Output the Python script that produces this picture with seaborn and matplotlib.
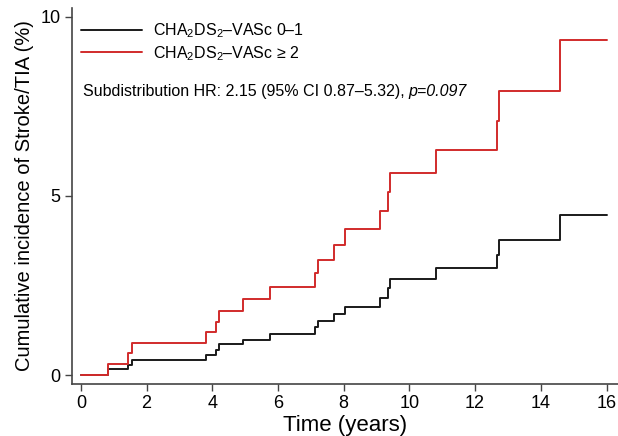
import matplotlib
matplotlib.use("Agg")
import matplotlib.pyplot as plt
import seaborn as sns
import pandas as pd

# ---- data ----
times = [0, 0.84, 1.44, 1.57, 3.82, 4.10, 4.19, 4.95, 5.77, 7.13, 7.21,
         7.72, 8.05, 9.11, 9.36, 9.42, 10.81, 12.67, 12.74, 14.59, 16.0]
low_risk = [0, 0.16, 0.27, 0.42, 0.55, 0.70, 0.86, 0.98, 1.15, 1.35, 1.52,
            1.70, 1.91, 2.16, 2.42, 2.67, 2.98, 3.35, 3.77, 4.47, 4.47]
high_risk = [0, 0.32, 0.62, 0.90, 1.20, 1.49, 1.80, 2.12, 2.45, 2.84, 3.21,
             3.62, 4.07, 4.59, 5.12, 5.65, 6.28, 7.10, 7.93, 9.34, 9.34]
group_labels = [r"CHA$_2$DS$_2$–VASc 0–1", r"CHA$_2$DS$_2$–VASc ≥ 2"]
colors = ["#1a1a1a", "#d12b2b"]
x_ticks = [0, 2, 4, 6, 8, 10, 12, 14, 16]
y_ticks = [0, 5, 10]
annotation_main = "Subdistribution HR: 2.15 (95% CI 0.87–5.32), "
annotation_p = "p=0.097"

df = pd.concat([
    pd.DataFrame({"t": times, "v": low_risk, "g": group_labels[0]}),
    pd.DataFrame({"t": times, "v": high_risk, "g": group_labels[1]}),
], ignore_index=True)

sns.set_style("ticks")
plt.rcParams["font.family"] = ["Liberation Sans", "DejaVu Sans"]
plt.rcParams["mathtext.fontset"] = "custom"
plt.rcParams["mathtext.rm"] = "Liberation Sans"
plt.rcParams["mathtext.it"] = "Liberation Sans:italic"
plt.rcParams["mathtext.bf"] = "Liberation Sans:bold"
plt.rcParams["text.color"] = "black"
plt.rcParams["axes.labelcolor"] = "black"
plt.rcParams["xtick.color"] = "#444444"
plt.rcParams["ytick.color"] = "#444444"
plt.rcParams["xtick.labelcolor"] = "black"
plt.rcParams["ytick.labelcolor"] = "black"

fig = plt.figure(figsize=(6.18, 4.36), dpi=100)
ax = fig.add_axes([0.116, 0.119, 0.884, 0.863])

sns.lineplot(data=df, x="t", y="v", hue="g", hue_order=group_labels,
             palette=colors, estimator=None, sort=False,
             drawstyle="steps-post", linewidth=1.4, ax=ax, legend=False)

ax.set_xlim(-0.28, 16.35)
ax.set_ylim(-0.25, 10.25)
ax.set_xticks(x_ticks)
ax.set_yticks(y_ticks)
ax.tick_params(axis="both", labelsize=13, length=5, width=1, pad=3)
for s in ["top", "right"]:
    ax.spines[s].set_visible(False)
for s in ["left", "bottom"]:
    ax.spines[s].set_color("#444444")
    ax.spines[s].set_linewidth(1.2)

ax.set_xlabel("Time (years)", fontsize=16, labelpad=2)
ax.set_ylabel("Cumulative incidence of Stroke/TIA (%)", fontsize=14.5, labelpad=5)

handles = [plt.Line2D([], [], color=c, lw=1.4) for c in colors]
ax.legend(handles, group_labels, loc="upper left", bbox_to_anchor=(0.0, 0.99),
          frameon=False, fontsize=11.5, handlelength=3.8, handletextpad=0.7,
          labelspacing=0.25, borderaxespad=0.2)

t1 = ax.text(0.02, 0.767, annotation_main, transform=ax.transAxes,
             fontsize=11.5, va="baseline", ha="left")
fig.canvas.draw()
bb = t1.get_window_extent(renderer=fig.canvas.get_renderer())
x_end = ax.transAxes.inverted().transform((bb.x1, bb.y0))[0]
ax.text(x_end, 0.767, annotation_p, transform=ax.transAxes, fontsize=11.5,
        va="baseline", ha="left", fontstyle="italic")

fig.savefig("out.png", dpi=100)
